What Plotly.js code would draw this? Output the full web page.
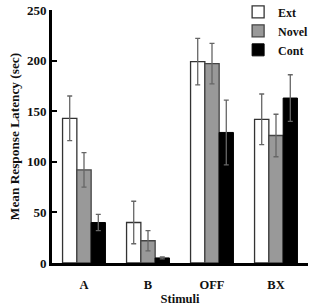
<!DOCTYPE html>
<html>
<head>
<meta charset="utf-8">
<script src="https://cdn.plot.ly/plotly-3.0.1.min.js"></script>
<style>html,body{margin:0;padding:0;background:#fff;}#chart{width:311px;height:306px;}</style>
</head>
<body>
<div id="chart"></div>
<script>
var categories = ["A", "B", "OFF", "BX"];
var extValues = [143, 40, 199, 142];
var extErrors = [22, 21, 23, 25];
var novelValues = [92, 22, 197, 126];
var novelErrors = [17, 10, 20, 21];
var contValues = [40, 5, 129, 163];
var contErrors = [8, 1, 32, 23];

var serif = "Liberation Serif, Times New Roman, serif";

function errCfg(arr) {
  return {type: "data", array: arr, visible: true, color: "#666", thickness: 1.3, width: 2.5};
}

var traces = [
  {type: "bar", name: "Ext", x: categories, y: extValues, error_y: errCfg(extErrors),
   marker: {color: "#ffffff", line: {color: "#333", width: 1.3}}},
  {type: "bar", name: "Novel", x: categories, y: novelValues, error_y: errCfg(novelErrors),
   marker: {color: "#999999", line: {color: "#444", width: 1.3}}},
  {type: "bar", name: "Cont", x: categories, y: contValues, error_y: errCfg(contErrors),
   marker: {color: "#000000", line: {color: "#000", width: 1}}}
];

var layout = {
  width: 311, height: 306,
  margin: {l: 52, r: 3, t: 10, b: 43, autoexpand: false},
  paper_bgcolor: "#fff", plot_bgcolor: "#fff",
  barmode: "group", bargap: 0.33, bargroupgap: 0,
  font: {family: serif, color: "#111"},
  showlegend: true,
  legend: {x: 0.727, y: 1.05, xanchor: "left", yanchor: "top", bgcolor: "rgba(0,0,0,0)",
           font: {family: serif, size: 12, weight: "bold"}, itemwidth: 30, tracegroupgap: 0},
  xaxis: {
    type: "category", range: [-0.5, 3.5], showgrid: false, zeroline: false,
    showline: true, linecolor: "#000", linewidth: 3, ticks: "",
    ticklabelstandoff: 8,
    tickfont: {family: serif, size: 12.5, weight: "bold"},
    title: {text: "Stimuli", font: {family: serif, size: 12.5, weight: "bold"}, standoff: 12}
  },
  yaxis: {
    range: [0, 250], dtick: 50, showgrid: false, zeroline: false,
    showline: true, linecolor: "#000", linewidth: 3,
    ticks: "inside", ticklen: 5, tickwidth: 2, tickcolor: "#000",
    tickfont: {family: serif, size: 13, weight: "bold"},
    title: {text: "Mean Response Latency (sec)", font: {family: serif, size: 13.3, weight: "bold"}, standoff: 5}
  }
};

Plotly.newPlot("chart", traces, layout, {displayModeBar: false, staticPlot: true});
</script>
</body>
</html>
